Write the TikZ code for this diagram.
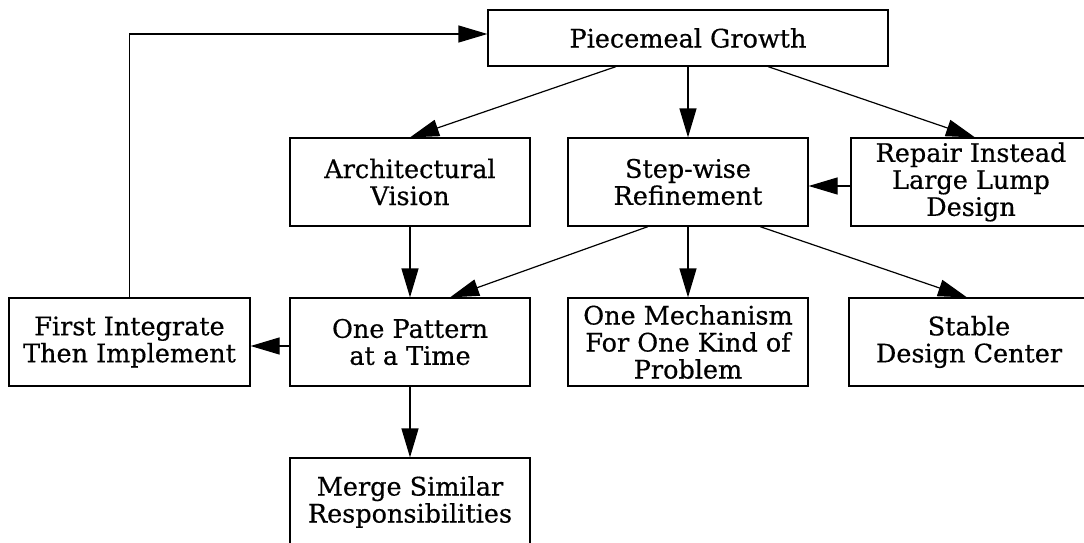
\documentclass[tikz,border=0pt]{standalone}
\usepackage{fontspec}
\setmainfont[FakeBold=0.5]{DejaVu Serif}
\usetikzlibrary{arrows.meta,calc}
\begin{document}
\begin{tikzpicture}[x=1pt,y=-1pt,
  box/.style={draw,line width=1.2pt,minimum width=240pt,minimum height=88pt,
    align=center,inner sep=0pt,font=\fontsize{25.5}{27}\selectfont},
  conn/.style={line width=1.2pt,-{Triangle[length=29pt,width=17pt]}}]
\useasboundingbox (0,0) rectangle (1084,543);

% top level
\node[box,minimum width=400pt,minimum height=56pt] (pg) at (688,38) {Piecemeal Growth};

% second row
\node[box] (av) at (410,182) {Architectural\\Vision};
\node[box] (sr) at (688,182) {Step-wise\\Refinement};
\node[box] (ri) at (971,182) {Repair Instead\\Large Lump\\Design};

% third row
\node[box,minimum width=241pt] (fi) at (129.5,342) {First Integrate\\Then Implement};
\node[box] (op) at (410,342) {One Pattern\\at a Time};
\node[box] (om) at (688,342) {One Mechanism\\For One Kind of\\Problem};
\node[box] (sd) at (969,342) {Stable\\Design Center};

% bottom
\node[box] (ms) at (410,502) {Merge Similar\\Responsibilities};

% connectors
\draw[conn] ([xshift=-72pt]pg.south) -- (av.north);
\draw[conn] (pg.south) -- (sr.north);
\draw[conn] ([xshift=80pt]pg.south) -- ([xshift=4pt]ri.north);
\draw[conn] ([yshift=-4pt]ri.west) -- ([yshift=-4pt]sr.east);
\draw[conn] (av.south) -- (op.north);
\draw[conn] ([xshift=-40pt]sr.south) -- ([xshift=40pt]op.north);
\draw[conn] (sr.south) -- (om.north);
\draw[conn] ([xshift=72pt]sr.south) -- ([xshift=-2pt]sd.north);
\draw[conn] ([yshift=-4pt]op.west) -- ([yshift=-4pt]fi.east);
\draw[conn] (op.south) -- (ms.north);
\draw[conn] (fi.north) |- ([yshift=4pt]pg.west);
\end{tikzpicture}
\end{document}
